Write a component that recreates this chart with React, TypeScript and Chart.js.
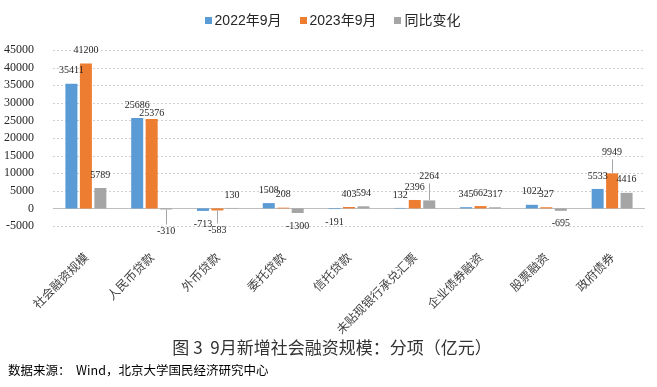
import React, { useEffect, useRef } from "react";
import { Chart, registerables } from "chart.js";

Chart.register(...registerables);

const categories = [
  "社会融资规模",
  "人民币贷款",
  "外币贷款",
  "委托贷款",
  "信托贷款",
  "未贴现银行承兑汇票",
  "企业债券融资",
  "股票融资",
  "政府债券",
];
const seriesNames = ["2022年9月", "2023年9月", "同比变化"];
const values2022 = [35411, 25686, -713, 1508, -191, 132, 345, 1022, 5533];
const values2023 = [41200, 25376, -583, 208, 403, 2396, 662, 327, 9949];
const valuesChange = [5789, -310, 130, -1300, 594, 2264, 317, -695, 4416];
const yMin = -5000;
const yMax = 45000;
const yStep = 5000;
const colors = ["#5B9BD5", "#ED7D31", "#A5A5A5"];

const titleText = "图 3  9月新增社会融资规模：分项（亿元）";
const sourceText = "数据来源：  Wind，北京大学国民经济研究中心";

// label distance from bar end (px); labels pulled further away get a leader line
const defaultLabelGap = 13;
const labelGapOverrides: Record<string, number> = { "2-1": 22, "1-2": 20, "2-5": 24, "1-8": 21, "1-1": 6 };
const leaderLines: Record<string, boolean> = { "2-1": true, "1-2": true, "2-5": true, "1-8": true };

const gridPlugin = {
  id: "customGrid",
  beforeDatasetsDraw(chart: any) {
    const { ctx, chartArea, scales } = chart;
    const y = scales.y;
    ctx.save();
    for (let v = yMin; v <= yMax; v += yStep) {
      const py = Math.round(y.getPixelForValue(v)) + 0.5;
      ctx.beginPath();
      if (v === 0) {
        ctx.setLineDash([]);
        ctx.strokeStyle = "#BFBFBF";
      } else {
        ctx.setLineDash([2, 2]);
        ctx.strokeStyle = "#D0D0D0";
      }
      ctx.lineWidth = 1;
      ctx.moveTo(chartArea.left, py);
      ctx.lineTo(chartArea.right, py);
      ctx.stroke();
    }
    ctx.restore();
  },
};

const labelPlugin = {
  id: "barLabels",
  afterDatasetsDraw(chart: any) {
    const { ctx } = chart;
    ctx.save();
    ctx.font = "10px 'Liberation Serif', 'DejaVu Serif', serif";
    ctx.fillStyle = "#262626";
    ctx.textAlign = "center";
    ctx.textBaseline = "middle";
    chart.data.datasets.forEach((ds: any, di: number) => {
      const meta = chart.getDatasetMeta(di);
      meta.data.forEach((bar: any, i: number) => {
        const v = ds.data[i];
        const key = `${di}-${i}`;
        const gap = labelGapOverrides[key] ?? defaultLabelGap;
        const top = Math.min(bar.y, bar.base);
        const bottom = Math.max(bar.y, bar.base);
        let ly: number;
        if (v >= 0) {
          ly = top - gap;
          if (leaderLines[key]) {
            ctx.beginPath();
            ctx.strokeStyle = "#A6A6A6";
            ctx.lineWidth = 1;
            ctx.moveTo(Math.round(bar.x) + 0.5, top);
            ctx.lineTo(Math.round(bar.x) + 0.5, ly + 7);
            ctx.stroke();
          }
        } else {
          ly = bottom + gap;
          if (leaderLines[key]) {
            ctx.beginPath();
            ctx.strokeStyle = "#A6A6A6";
            ctx.lineWidth = 1;
            ctx.moveTo(Math.round(bar.x) + 0.5, bottom);
            ctx.lineTo(Math.round(bar.x) + 0.5, ly - 7);
            ctx.stroke();
          }
        }
        ctx.fillText(String(v), bar.x, ly);
      });
    });
    ctx.restore();
  },
};

export default function App() {
  const canvasRef = useRef<HTMLCanvasElement | null>(null);

  useEffect(() => {
    if (!canvasRef.current) return;
    const chart = new Chart(canvasRef.current, {
      type: "bar",
      data: {
        labels: categories,
        datasets: [values2022, values2023, valuesChange].map((d, i) => ({
          label: seriesNames[i],
          data: d,
          backgroundColor: colors[i],
          borderWidth: 0,
          categoryPercentage: 0.66,
          barPercentage: 0.83,
        })),
      },
      options: {
        responsive: false,
        animation: false,
        devicePixelRatio: 1,
        layout: { padding: { top: 50, right: 12, left: 0, bottom: 0 } },
        plugins: {
          legend: { display: false },
          tooltip: { enabled: false },
          title: { display: false },
        },
        scales: {
          x: {
            grid: { display: false, drawTicks: false },
            border: { display: false },
            ticks: {
              autoSkip: false,
              maxRotation: 45,
              minRotation: 45,
              padding: 24,
              color: "#404040",
              font: { family: "Noto Sans CJK SC", size: 12 },
            },
            afterFit: (s: any) => {
              s.height = 161;
            },
          },
          y: {
            min: yMin,
            max: yMax,
            grid: { display: false },
            border: { display: false },
            ticks: {
              stepSize: yStep,
              padding: 11,
              color: "#262626",
              font: { family: "Liberation Serif", size: 12 },
              callback: (v: any) => String(v),
            },
            afterFit: (s: any) => {
              s.width = 53;
            },
          },
        },
      },
      plugins: [gridPlugin, labelPlugin],
    });
    return () => chart.destroy();
  }, []);

  const legendFont = "'Liberation Sans', 'Noto Sans CJK SC', sans-serif";

  return (
    <div
      style={{
        position: "absolute",
        left: 0,
        top: 0,
        width: 657,
        height: 387,
        background: "#fff",
        overflow: "hidden",
      }}
    >
      <canvas ref={canvasRef} width={657} height={387} style={{ position: "absolute", left: 0, top: 0 }} />
      <div
        style={{
          position: "absolute",
          top: 10,
          left: 0,
          width: 657,
          display: "flex",
          justifyContent: "center",
          paddingLeft: 8,
          boxSizing: "border-box",
          fontFamily: legendFont,
          fontSize: 14,
          lineHeight: "20px",
          color: "#262626",
        }}
      >
        {seriesNames.map((n, i) => (
          <div key={n} style={{ display: "flex", alignItems: "center", marginRight: i < 2 ? 18 : 0 }}>
            <span
              style={{
                display: "inline-block",
                width: 7,
                height: 7,
                background: colors[i],
                marginRight: 3,
              }}
            />
            <span>{n}</span>
          </div>
        ))}
      </div>
      <div
        style={{
          position: "absolute",
          top: 337,
          left: 0,
          width: 664,
          textAlign: "center",
          fontFamily: "'Noto Sans CJK SC', sans-serif",
          fontSize: 17,
          lineHeight: "20px",
          color: "#333",
          whiteSpace: "pre",
        }}
      >
        {titleText}
      </div>
      <div
        style={{
          position: "absolute",
          top: 361,
          left: 8,
          fontFamily: "'Noto Sans CJK SC', sans-serif",
          fontSize: 12.5,
          lineHeight: "18px",
          color: "#000",
          whiteSpace: "pre",
        }}
      >
        {sourceText}
      </div>
    </div>
  );
}
